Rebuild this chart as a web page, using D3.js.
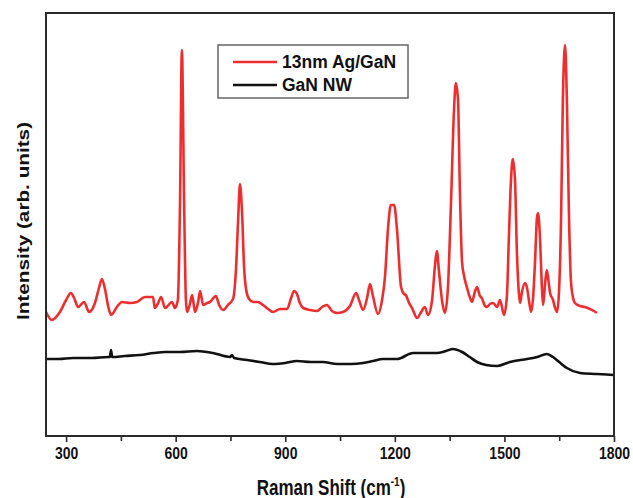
<!DOCTYPE html>
<html><head><meta charset="utf-8">
<script src="https://cdn.jsdelivr.net/npm/d3@7"></script>
<style>
html,body{margin:0;padding:0;background:#fff;}
svg{display:block;font-family:"Liberation Sans",Arial,sans-serif;}
</style></head>
<body><svg id="chart" width="633" height="498"></svg>
<script>
// ---- data ----
const seriesNames = ["13nm Ag/GaN", "GaN NW"];
const agShift = [245,261,283,300,313,322,333,349,363,379,390,398,407,415,423,439,453,475,494,516,538,543,552,560,571,590,598,606,612,617,623,628,631,639,645,653,661,667,675,686,694,710,719,730,743,757,765,771,776,782,787,793,801,812,825,839,853,866,886,905,916,924,932,940,949,968,987,1001,1014,1028,1042,1058,1077,1094,1102,1113,1124,1132,1140,1154,1165,1173,1181,1189,1198,1206,1217,1225,1230,1239,1247,1261,1272,1282,1291,1302,1310,1315,1321,1329,1337,1345,1354,1362,1367,1373,1378,1384,1389,1397,1406,1411,1419,1425,1433,1438,1447,1452,1460,1469,1480,1488,1499,1507,1512,1518,1523,1529,1534,1540,1543,1548,1556,1562,1567,1573,1578,1584,1589,1592,1597,1603,1606,1611,1616,1622,1625,1633,1638,1644,1649,1655,1660,1666,1671,1677,1682,1688,1693,1707,1720,1734,1745,1753];
const agIntensity = [124,116,124,136,143,138,129,134,124,133,148,157,146,130,121,129,134,133,134,139,139,128,133,139,128,134,128,136,236,386,236,136,124,132,141,124,133,145,131,133,134,140,131,126,131,137,166,216,252,221,171,146,137,134,134,131,127,124,127,127,138,145,142,133,128,126,125,129,131,125,123,124,130,143,136,126,138,152,140,122,136,159,206,231,231,206,149,142,141,133,128,118,124,129,121,136,171,185,164,136,123,146,236,326,353,336,246,174,161,149,138,134,144,149,140,138,130,129,132,133,129,136,121,141,196,256,277,256,186,141,133,144,153,148,136,124,136,176,218,223,201,146,131,151,166,151,143,136,129,124,141,216,336,391,336,216,156,138,133,130,129,127,125,123];
const ganShift = [245,280,319,370,415,420,423,426,460,502,540,571,612,658,702,749,754,760,795,830,866,900,932,970,1003,1042,1080,1113,1140,1167,1206,1250,1280,1315,1340,1359,1384,1405,1425,1450,1480,1515,1562,1590,1616,1633,1650,1671,1707,1753,1800];
const ganIntensity = [77,77,78,78,79,79,86,79,80,81,83,84,84,85,83,79,81,78,76,74,72,73,75,74,74,72,72,73,75,77,77,83,83,83,85,87,84,79,74,71,70,74,77,79,82,79,74,68,63,62,61];
const xTicks = [300,600,900,1200,1500,1800];
const xMinorTicks = [450,750,1050,1350,1650];

// ---- layout ----
const svg = d3.select("#chart");
const L = 46, R = 614, T = 13, B = 436;
const x = d3.scaleLinear().domain([245, 1800]).range([L, R]);
const y = d3.scaleLinear().domain([0, 423]).range([B, T]);

// series
const line = d3.line().x(d => x(d[0])).y(d => y(d[1])).curve(d3.curveMonotoneX);
const agData = d3.zip(agShift, agIntensity);
const ganData = d3.zip(ganShift, ganIntensity);

svg.append("path").datum(ganData).attr("d", line)
  .attr("fill","none").attr("stroke","#111").attr("stroke-width",2.6).attr("stroke-linejoin","round");
svg.append("path").datum(agData).attr("d", line)
  .attr("fill","none").attr("stroke","#ee2e2e").attr("stroke-width",2.6).attr("stroke-linejoin","round");

// frame
svg.append("rect").attr("x",L).attr("y",T).attr("width",R-L).attr("height",B-T)
  .attr("fill","none").attr("stroke","#2a2a2a").attr("stroke-width",2);

// x axis major
const ax = svg.append("g").attr("transform",`translate(0,${B})`)
  .call(d3.axisBottom(x).tickValues(xTicks).tickSize(6).tickFormat(d3.format("d")));
ax.select(".domain").remove();
ax.selectAll(".tick line").attr("stroke","#2a2a2a").attr("stroke-width",1.6);
ax.selectAll(".tick text").remove();
ax.selectAll(".tick").append("g").attr("transform","translate(0,23) scale(1,1.2)")
  .append("text").attr("text-anchor","middle").attr("fill","#111")
  .style("font-size","14px").style("font-weight","bold").text(d => d);
// minor
const axm = svg.append("g").attr("transform",`translate(0,${B})`)
  .call(d3.axisBottom(x).tickValues(xMinorTicks).tickSize(5).tickFormat(""));
axm.select(".domain").remove();
axm.selectAll(".tick line").attr("stroke","#2a2a2a").attr("stroke-width",1.6);

// x title
const xt = svg.append("g").attr("transform","translate(331,495) scale(1,1.25)")
  .append("text").attr("text-anchor","middle").attr("fill","#111")
  .style("font-size","17px").style("font-weight","bold");
xt.append("tspan").text("Raman Shift (cm");
xt.append("tspan").attr("dy",-7).style("font-size","10px").text("-1");
xt.append("tspan").attr("dy",7).text(")");

// y title
svg.append("g").attr("transform","translate(29,221) rotate(-90) scale(1.22,1)")
  .append("text").attr("text-anchor","middle").attr("fill","#111")
  .style("font-size","17px").style("font-weight","bold").text("Intensity (arb. units)");

// legend
const lg = svg.append("g");
lg.append("rect").attr("x",218).attr("y",45).attr("width",190).attr("height",53)
  .attr("fill","#fff").attr("stroke","#666").attr("stroke-width",1.5);
const colors = ["#ee2e2e","#111"];
seriesNames.forEach((n,i) => {
  const yy = 62 + i*23;
  lg.append("line").attr("x1",233).attr("x2",277).attr("y1",yy).attr("y2",yy)
    .attr("stroke",colors[i]).attr("stroke-width",2.4);
  lg.append("text").attr("x",282).attr("y",yy+6).attr("fill","#111")
    .style("font-size","17.5px").style("font-weight","bold").text(n);
});
</script></body></html>
